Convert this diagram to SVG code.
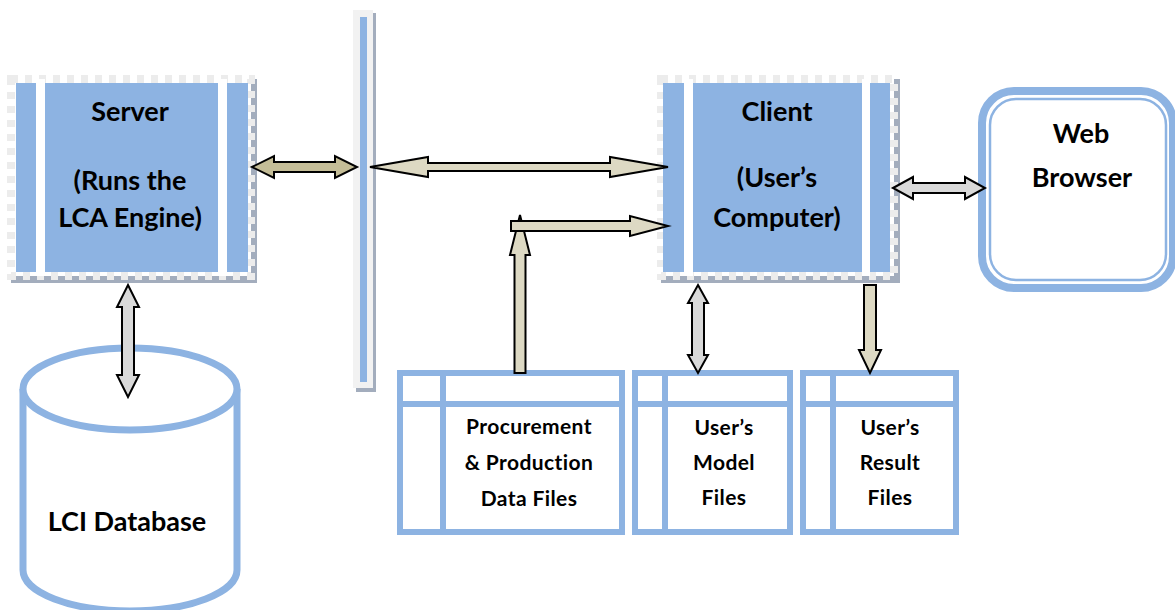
<svg xmlns="http://www.w3.org/2000/svg" width="1175" height="610" viewBox="0 0 1175 610">
<style>
.t{font-family:Lato,"Liberation Sans",sans-serif;font-weight:700;fill:#000;text-anchor:middle}
.big{font-size:27px}
.sm{font-size:21px;letter-spacing:0.4px}
.blue{fill:#8db3e2}
.frame{fill:#ffffff;stroke:#ececec;stroke-width:8;stroke-dasharray:7 7}
.shadow{fill:#a3adbd}
.file{fill:#fff;stroke:#8db3e2;stroke-width:6}
.fl{stroke:#8db3e2;stroke-width:6}
.arr{stroke:#000;stroke-width:2;stroke-linejoin:miter}
.khaki{fill:#c4bd97}
.beige{fill:#ddd9c3}
.gray{fill:#d9d9d9}
</style>
<rect width="1175" height="610" fill="#fff"/>

<g id="server">
<rect class="shadow" x="11" y="79" width="246" height="204"/>
<rect class="frame" x="11" y="79" width="240" height="197"/>
<rect class="blue" x="16" y="83" width="232" height="189"/>
<rect x="36" y="79" width="9" height="197" fill="#fff"/>
<rect x="218" y="79" width="9" height="197" fill="#fff"/>
<text class="t big" x="130" y="121">Server</text>
<text class="t big" x="130" y="190">(Runs the</text>
<text class="t big" x="130" y="227">LCA Engine)</text>
</g>

<g id="network">
<rect class="shadow" x="356" y="13" width="20" height="379"/>
<rect x="353" y="10" width="20" height="378" fill="#f2f2f2"/>
<rect class="blue" x="360" y="17" width="7" height="365"/>
</g>

<g id="client">
<rect class="shadow" x="661" y="79" width="239" height="204"/>
<rect class="frame" x="661" y="79" width="233" height="197"/>
<rect class="blue" x="663" y="83" width="227" height="189"/>
<rect x="684" y="79" width="9" height="197" fill="#fff"/>
<rect x="862" y="79" width="8" height="197" fill="#fff"/>
<text class="t big" x="777" y="121">Client</text>
<text class="t big" x="777" y="187">(User’s</text>
<text class="t big" x="777" y="227">Computer)</text>
</g>

<g id="browser">
<rect x="982" y="91" width="191" height="197" rx="32" fill="#fff" stroke="#8db3e2" stroke-width="8"/>
<rect x="990" y="99" width="176" height="181" rx="26" fill="none" stroke="#8db3e2" stroke-width="2.5"/>
<text class="t big" x="1081" y="143">Web</text>
<text class="t big" x="1082" y="187">Browser</text>
</g>

<g id="database">
<path d="M23,389 L23,570 A107,41 0 0 0 237,570 L237,389" fill="#fff" stroke="#8db3e2" stroke-width="7"/>
<ellipse cx="130" cy="389" rx="107" ry="41" fill="#fff" stroke="#8db3e2" stroke-width="7"/>
<text class="t big" x="127" y="531">LCI Database</text>
</g>

<g id="procurement">
<rect class="file" x="400" y="373" width="222" height="159"/>
<line class="fl" x1="400" y1="404" x2="622" y2="404"/>
<line class="fl" x1="443" y1="373" x2="443" y2="532"/>
<text class="t sm" x="529" y="434">Procurement</text>
<text class="t sm" x="529" y="470">&amp; Production</text>
<text class="t sm" x="529" y="506">Data Files</text>
</g>

<g id="model">
<rect class="file" x="635" y="373" width="155" height="159"/>
<line class="fl" x1="635" y1="404" x2="790" y2="404"/>
<line class="fl" x1="665" y1="373" x2="665" y2="532"/>
<text class="t sm" x="724" y="435">User’s</text>
<text class="t sm" x="724" y="470">Model</text>
<text class="t sm" x="724" y="505">Files</text>
</g>

<g id="result">
<rect class="file" x="803" y="373" width="153" height="159"/>
<line class="fl" x1="803" y1="404" x2="956" y2="404"/>
<line class="fl" x1="833" y1="373" x2="833" y2="532"/>
<text class="t sm" x="890" y="435">User’s</text>
<text class="t sm" x="890" y="470">Result</text>
<text class="t sm" x="890" y="505">Files</text>
</g>

<g id="connectors">
<polygon class="arr khaki" points="252,167 274,156 274,162 335,162 335,156 357,167 335,178 335,172 274,172 274,178"/>
<polygon class="arr beige" points="370,167 428,157 428,163 610,163 610,157 668,167 610,177 610,171 428,171 428,177"/>
<polygon class="arr gray" points="893,188 913,177 913,183 965,183 965,177 985,188 965,199 965,193 913,193 913,199"/>
<polygon class="arr gray" points="128,285 139,307 134,307 134,375 139,375 128,397 117,375 122,375 122,307 117,307"/>
<polygon class="arr gray" points="698,285 708,303 704,303 704,355 708,355 698,373 688,355 692,355 692,303 688,303"/>
<polygon class="arr beige" points="864,285 876,285 876,350 881,350 870,373 859,350 864,350"/>
<polygon class="arr beige" points="520,215 530,255 525.5,255 525.5,373 514.5,373 514.5,255 510,255"/>
<polygon class="arr beige" points="511,221 630,221 630,216 668,226 630,236 630,231 511,231"/>
</g>
</svg>
